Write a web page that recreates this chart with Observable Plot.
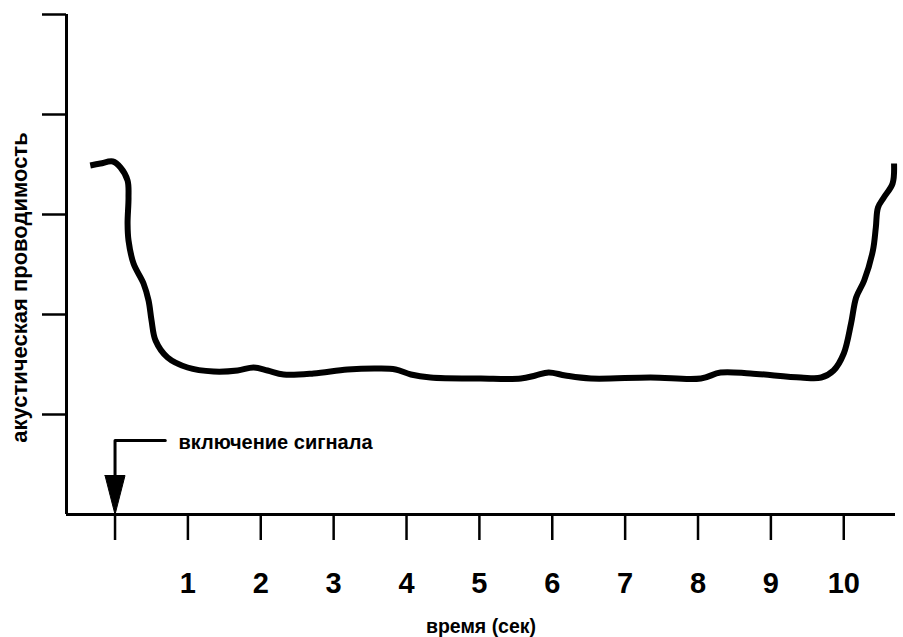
<!DOCTYPE html>
<html><head><meta charset="utf-8">
<script src="https://cdn.jsdelivr.net/npm/d3@7"></script>
<script src="https://cdn.jsdelivr.net/npm/@observablehq/plot@0.6"></script>
<style>body{margin:0;background:#fff} svg{display:block}</style>
</head><body><div id="chart"></div>
<script>
// curve: time (s) vs acoustic conductance (arbitrary units)
const time = [-0.34,-0.2,-0.03,0.075,0.172,0.185,0.172,0.185,0.254,0.391,0.46,0.501,0.556,0.721,0.995,1.352,1.682,1.901,2.093,2.313,2.725,3.191,3.617,3.85,4.06,4.33,5.02,5.57,5.77,5.95,6.18,6.53,7.35,8.04,8.31,8.72,9.41,9.69,9.86,10.0,10.1,10.17,10.28,10.4,10.44,10.47,10.55,10.67,10.69];
const conductance = [3.49,3.51,3.53,3.47,3.34,3.17,2.91,2.74,2.51,2.31,2.14,1.94,1.74,1.57,1.47,1.43,1.44,1.47,1.44,1.40,1.41,1.45,1.46,1.45,1.40,1.37,1.36,1.36,1.39,1.42,1.39,1.36,1.37,1.36,1.42,1.41,1.37,1.37,1.44,1.61,1.91,2.17,2.34,2.64,2.87,3.07,3.17,3.31,3.51];

const xTicks = [0,1,2,3,4,5,6,7,8,9,10];
const xTickLabels = ["","1","2","3","4","5","6","7","8","9","10"];
const yTicks = [1,2,3,4,5];
const xDomain = [-0.666, 10.71];
const yDomain = [0, 5];
const xLabel = "время (сек)";
const yLabel = "акустическая проводимость";

// annotation: signal onset at t = 0
const noteText = ["включение сигнала"];
const noteT = [0.87];
const noteV = [0.72];
const elbowT = [0.69, 0, 0];
const elbowV = [0.74, 0.74, 0.39];
const headT = [-0.137, 0.137, 0, -0.137];
const headV = [0.39, 0.39, 0, 0.39];

const curve = time.map((t, i) => ({t, v: conductance[i]}));
const elbow = elbowT.map((t, i) => ({t, v: elbowV[i]}));
const head = headT.map((t, i) => ({t, v: headV[i]}));
const note = noteText.map((s, i) => ({s, t: noteT[i], v: noteV[i]}));

const font = "'Liberation Sans', Arial, Helvetica, sans-serif";

const chart = Plot.plot({
  width: 903, height: 637,
  marginLeft: 66, marginRight: 8, marginTop: 14, marginBottom: 123,
  style: {fontFamily: font, background: "white", color: "black"},
  x: {domain: xDomain},
  y: {domain: yDomain},
  marks: [
    Plot.ruleX([xDomain[0]], {y1: yDomain[0], y2: yDomain[1], strokeWidth: 3}),
    Plot.ruleY([yDomain[0]], {strokeWidth: 3}),
    Plot.axisY(yTicks, {tickSize: 24, strokeWidth: 2.5, tickFormat: () => "", label: null}),
    Plot.axisX(xTicks, {tickSize: 26, tickPadding: 32, strokeWidth: 2.5,
      tickFormat: d => xTickLabels[xTicks.indexOf(d)], fontSize: 29, fontWeight: "bold", label: null}),
    Plot.text([xLabel], {frameAnchor: "bottom", textAnchor: "middle", lineAnchor: "middle", dy: 112, fontSize: 19.5, fontWeight: "bold"}),
    Plot.text([yLabel], {frameAnchor: "left", textAnchor: "middle", lineAnchor: "middle", rotate: -90, dx: -47, dy: 23, fontSize: 22, fontWeight: "bold"}),
    Plot.line(curve, {x: "t", y: "v", strokeWidth: 6, curve: "catmull-rom", strokeLinecap: "butt", strokeLinejoin: "round"}),
    Plot.line(elbow, {x: "t", y: "v", strokeWidth: 3}),
    Plot.line(head, {x: "t", y: "v", fill: "black", stroke: "black", strokeWidth: 1}),
    Plot.text(note, {x: "t", y: "v", text: "s", textAnchor: "start", fontSize: 20, fontWeight: "bold"})
  ]
});
document.getElementById("chart").append(chart);
</script>
</body></html>
